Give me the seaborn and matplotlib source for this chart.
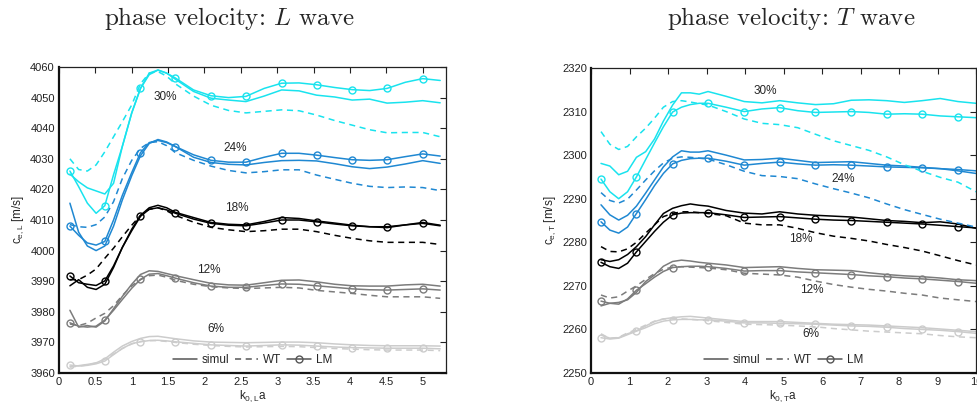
import matplotlib
matplotlib.use('Agg')
import matplotlib.pyplot as plt
from matplotlib.lines import Line2D
import seaborn as sns

sns.set_theme(style='white')
plt.rcParams['font.family'] = ['Liberation Sans', 'DejaVu Sans']
plt.rcParams['mathtext.fontset'] = 'custom'
plt.rcParams['mathtext.rm'] = 'Liberation Sans'
plt.rcParams['mathtext.it'] = 'Liberation Sans'

# ---- L wave (left panel) ----
XL = [0.15, 0.27, 0.39, 0.51, 0.63, 0.75, 0.87, 1.0, 1.12, 1.24, 1.36, 1.48, 1.6, 1.85,
      2.09, 2.33, 2.57, 2.82, 3.06, 3.3, 3.54, 3.79, 4.03, 4.27, 4.51, 4.76, 5.0, 5.24]

L30_simul = [4025, 4022.5, 4020.5, 4019.5, 4018.5, 4022, 4034, 4045, 4053, 4057.5, 4059, 4058, 4056, 4052,
             4049.8, 4049.2, 4048.7, 4050.5, 4052.5, 4052.2, 4050.8, 4050.2, 4049.2, 4049.5, 4048.2, 4048.5, 4049, 4048.3]
L30_wt = [4030, 4026.5, 4026, 4028, 4032.3, 4037.2, 4042.1, 4047.6, 4054.5, 4058, 4058.5, 4057, 4054.5, 4050.5,
          4047.5, 4045.8, 4045, 4045.5, 4046, 4045.7, 4044.3, 4042.5, 4041, 4039.5, 4038.5, 4038.6, 4038.6, 4037.2]
L30_lm = [4026, 4020.9, 4015.5, 4012.2, 4014.7, 4024.8, 4034, 4045, 4053, 4058, 4059, 4058, 4056.4, 4052.5,
          4050.6, 4050, 4050.4, 4053, 4054.7, 4054.8, 4054.2, 4053.3, 4052.6, 4052.3, 4053, 4055, 4056.2, 4055.6]

L24_simul = [4015.5, 4006, 4001.5, 4000, 4001.5, 4008, 4016.5, 4024.5, 4031, 4035, 4036.3, 4035.5, 4034, 4030.5,
             4028.8, 4028.2, 4028, 4028.8, 4029.4, 4029.5, 4029.3, 4028.4, 4027.4, 4026.8, 4027.3, 4028.3, 4029.4, 4028.5]
L24_wt = [4008.5, 4007.8, 4007.6, 4008.5, 4011, 4016, 4023.5, 4029.5, 4033.4, 4035.3, 4035.6, 4034.3, 4032, 4029.5,
          4027.6, 4026.2, 4025.4, 4025.8, 4026.4, 4026.4, 4024.7, 4023.3, 4022, 4021, 4020.6, 4020.8, 4020.6, 4019.6]
L24_lm = [4008, 4005, 4002.5, 4001.8, 4003, 4010, 4018, 4025.5, 4032, 4035.3, 4036, 4035.3, 4034, 4031.3,
          4029.5, 4028.9, 4028.9, 4030.5, 4031.8, 4031.8, 4031.2, 4030.4, 4029.7, 4029.5, 4029.7, 4030.7, 4031.6, 4030.9]

L18_simul = [3988.5, 3990.5, 3988, 3987.3, 3989, 3994.5, 4001, 4007, 4011.5, 4014, 4014.8, 4014, 4012.5, 4010.8,
             4009.2, 4008.6, 4008.4, 4009.5, 4010.8, 4010.5, 4009.7, 4009, 4008.3, 4007.8, 4007.5, 4008.4, 4009.2, 4008.3]
L18_wt = [3990.5, 3990.5, 3992, 3994, 3997.5, 4000.8, 4004.5, 4008.3, 4011.5, 4013.5, 4014, 4013, 4011.5, 4009.3,
          4007.6, 4006.8, 4006.2, 4006.5, 4007, 4007, 4006.2, 4005, 4004, 4003.2, 4002.7, 4002.7, 4002.7, 4002]
L18_lm = [3991.7, 3989.5, 3989, 3988.6, 3990.1, 3995, 4001, 4006.5, 4011.2, 4013.5, 4014, 4013.3, 4012.2, 4010.3,
          4008.9, 4008.3, 4008.1, 4009, 4010, 4010, 4009.4, 4008.7, 4008.1, 4007.8, 4007.8, 4008.4, 4008.9, 4008.1]

L12_simul = [3980.5, 3975, 3975.5, 3975, 3977, 3981, 3985, 3989, 3992.2, 3993.4, 3993.2, 3992.5, 3991.8, 3990.5,
             3989.3, 3988.8, 3988.7, 3989.5, 3990.3, 3990.4, 3989.8, 3989, 3988.5, 3988.4, 3988.4, 3988.8, 3989, 3988.4]
L12_wt = [3976, 3975.5, 3976.3, 3978, 3979.5, 3982, 3985.3, 3988.5, 3990.5, 3991.8, 3992, 3991.3, 3990.3, 3989,
          3988.2, 3987.8, 3987.6, 3987.8, 3988, 3987.8, 3987, 3986.5, 3986, 3985.4, 3984.9, 3984.9, 3984.9, 3984.4]
L12_lm = [3976.4, 3975.3, 3975, 3975.3, 3977.3, 3980.5, 3984, 3987.7, 3990.6, 3992.3, 3992.5, 3991.8, 3991, 3989.5,
          3988.4, 3988, 3988, 3988.6, 3989.1, 3989, 3988.5, 3988, 3987.5, 3987.2, 3987.1, 3987.3, 3987.5, 3987.1]

L6_simul = [3962, 3962.4, 3962.8, 3963.3, 3964.6, 3966.8, 3968.8, 3970.3, 3971.3, 3971.9, 3972, 3971.6, 3971.2, 3970.5,
            3970.1, 3970, 3969.9, 3970, 3970.1, 3970.1, 3969.9, 3969.5, 3969.2, 3969, 3968.9, 3968.9, 3968.9, 3968.8]
L6_wt = [3962, 3962.2, 3962.6, 3963.3, 3964.5, 3966.2, 3968, 3969.5, 3970.3, 3970.6, 3970.6, 3970.3, 3970, 3969.4,
         3969, 3968.7, 3968.5, 3968.6, 3968.7, 3968.6, 3968.3, 3968, 3967.8, 3967.6, 3967.5, 3967.5, 3967.5, 3967.3]
L6_lm = [3962.6, 3962.3, 3962.5, 3963, 3963.9, 3966, 3968, 3969.6, 3970.2, 3970.6, 3970.7, 3970.5, 3970.2, 3969.7,
         3969.2, 3969, 3968.8, 3969, 3969.2, 3969.1, 3968.8, 3968.5, 3968.3, 3968.2, 3968.1, 3968.1, 3968.1, 3967.9]

# ---- T wave (right panel) ----
XT = [0.26, 0.49, 0.72, 0.95, 1.18, 1.42, 1.65, 1.88, 2.12, 2.35, 2.58, 2.81, 3.04, 3.51,
      3.98, 4.44, 4.9, 5.37, 5.83, 6.3, 6.76, 7.22, 7.68, 8.14, 8.6, 9.07, 9.53, 10.0]

T30_simul = [2298.1, 2297.5, 2295.5, 2296.3, 2299.5, 2300.8, 2303.7, 2307.8, 2311.5, 2314.3, 2314.3, 2314, 2314.6, 2313.5,
             2312.3, 2312, 2312.5, 2312, 2311.6, 2311.8, 2312.6, 2312.7, 2312.5, 2312.1, 2312.5, 2313, 2312.3, 2311.9]
T30_wt = [2305.4, 2302.5, 2301.3, 2302, 2304.2, 2306.2, 2308.5, 2311, 2312.3, 2312.5, 2312.2, 2311.8, 2311.5, 2310,
          2308.3, 2307.3, 2307, 2306.3, 2304.8, 2303.3, 2302.2, 2301.1, 2299.6, 2297.8, 2296.3, 2294.9, 2293.8, 2291.6]
T30_lm = [2294.5, 2291.6, 2290, 2291.6, 2295, 2299, 2302.8, 2306.5, 2309.9, 2311, 2311.6, 2311.9, 2311.9, 2311,
          2310, 2310.6, 2310.9, 2310.2, 2309.8, 2309.9, 2310, 2309.8, 2309.4, 2309.5, 2309.4, 2309, 2308.8, 2308.6]

T24_simul = [2288.6, 2286.3, 2285.1, 2286.2, 2288.3, 2291.3, 2294.3, 2297.3, 2299.6, 2301, 2300.7, 2300.7, 2301, 2300,
             2298.9, 2299, 2299.3, 2298.8, 2298.3, 2298.4, 2298.5, 2298.1, 2297.7, 2297.5, 2297.2, 2296.9, 2296.4, 2295.8]
T24_wt = [2291.4, 2289.6, 2289, 2289.9, 2292, 2294.3, 2296.4, 2298.2, 2299.3, 2299.6, 2299.5, 2299.3, 2299.1, 2297.8,
          2296.3, 2295.3, 2295.1, 2294.6, 2293.4, 2292.3, 2291.3, 2290.2, 2288.8, 2287.5, 2286.4, 2285.3, 2284.4, 2283.5]
T24_lm = [2284.7, 2282.8, 2282.1, 2283.5, 2286.6, 2289.8, 2293, 2295.8, 2298, 2298.8, 2299.2, 2299.3, 2299.3, 2298.6,
          2297.7, 2298.1, 2298.4, 2298, 2297.7, 2297.8, 2297.7, 2297.5, 2297.3, 2297.2, 2297.1, 2296.9, 2296.7, 2296.4]

T18_simul = [2276, 2275.6, 2276, 2277.2, 2279, 2281.3, 2284, 2286.6, 2287.8, 2288.4, 2288.8, 2288.5, 2288.3, 2287.3,
             2286.7, 2286.5, 2287, 2286.5, 2286.2, 2286, 2285.8, 2285.4, 2285, 2284.8, 2284.5, 2284.7, 2284.2, 2283.2]
T18_wt = [2279, 2277.9, 2277.8, 2278.5, 2280, 2282.1, 2284, 2285.9, 2286.6, 2287, 2287, 2286.8, 2286.6, 2286.1,
          2284.4, 2284, 2284, 2283.2, 2282.2, 2281.4, 2280.9, 2280.3, 2279.5, 2278.8, 2278, 2276.9, 2275.8, 2274.8]
T18_lm = [2275.4, 2274.4, 2274, 2275.2, 2277.8, 2280.2, 2282.5, 2284.6, 2286.3, 2286.7, 2286.8, 2286.8, 2286.8, 2286.3,
          2285.7, 2285.8, 2285.9, 2285.6, 2285.3, 2285.1, 2285, 2284.8, 2284.6, 2284.4, 2284.2, 2283.9, 2283.6, 2283.3]

T12_simul = [2265.4, 2266, 2266.2, 2266.8, 2268.5, 2271, 2272.5, 2274.5, 2275.6, 2275.9, 2275.7, 2275.4, 2275.2, 2274.8,
             2274.2, 2274.3, 2274.4, 2274, 2273.7, 2273.6, 2273.5, 2273, 2272.6, 2272.3, 2272.1, 2271.8, 2271.4, 2271.2]
T12_wt = [2267.9, 2267.2, 2267.5, 2268.8, 2270, 2271.5, 2272.8, 2273.8, 2274.3, 2274.4, 2274.3, 2274.2, 2274.1, 2273.7,
          2272.9, 2272.7, 2272.5, 2272, 2271.1, 2270.3, 2269.7, 2269.2, 2268.8, 2268.3, 2267.9, 2267.2, 2266.8, 2266.4]
T12_lm = [2266.5, 2266, 2265.8, 2267, 2269, 2270.5, 2272, 2273.3, 2274.2, 2274.4, 2274.5, 2274.5, 2274.4, 2274,
          2273.4, 2273.5, 2273.5, 2273.2, 2273, 2272.8, 2272.6, 2272.3, 2272.1, 2271.8, 2271.6, 2271.3, 2271, 2270.6]

T6_simul = [2258.7, 2258, 2258.1, 2259, 2259.7, 2260.8, 2261.8, 2262.4, 2262.7, 2262.9, 2263, 2262.8, 2262.6, 2262.2,
            2261.8, 2261.8, 2261.8, 2261.6, 2261.4, 2261.2, 2261.1, 2261, 2260.8, 2260.6, 2260.4, 2260.1, 2259.8, 2259.5]
T6_wt = [2259, 2257.9, 2258.2, 2259.2, 2260, 2261, 2261.9, 2262.4, 2262.5, 2262.4, 2262.3, 2262.2, 2262, 2261.6,
         2261.2, 2261.1, 2261, 2260.8, 2260.6, 2260.2, 2259.9, 2259.6, 2259.4, 2259.2, 2259, 2258.6, 2258.3, 2258.1]
T6_lm = [2258.1, 2257.8, 2258, 2258.8, 2259.6, 2260.4, 2261.3, 2261.9, 2262.2, 2262.3, 2262.3, 2262.2, 2262.2, 2261.9,
         2261.5, 2261.5, 2261.4, 2261.3, 2261.2, 2261, 2260.8, 2260.7, 2260.5, 2260.2, 2260, 2259.8, 2259.5, 2259.1]

# marker positions on the LM curves (indices into XL / XT)
LM_MARKS = [0, 4, 8, 12, 14, 16, 18, 20, 22, 24, 26]

colors = {'6%': '#cccccc', '12%': '#7c7c7c', '18%': '#000000', '24%': '#1f88d2', '30%': '#19e3ee'}

left_sets = [('6%', L6_simul, L6_wt, L6_lm), ('12%', L12_simul, L12_wt, L12_lm),
             ('18%', L18_simul, L18_wt, L18_lm), ('24%', L24_simul, L24_wt, L24_lm),
             ('30%', L30_simul, L30_wt, L30_lm)]
right_sets = [('6%', T6_simul, T6_wt, T6_lm), ('12%', T12_simul, T12_wt, T12_lm),
              ('18%', T18_simul, T18_wt, T18_lm), ('24%', T24_simul, T24_wt, T24_lm),
              ('30%', T30_simul, T30_wt, T30_lm)]

# percent labels (x, y)
left_labels = {'30%': (1.46, 4050.3), '24%': (2.42, 4033.4), '18%': (2.45, 4013.8),
               '12%': (2.06, 3993.7), '6%': (2.16, 3974.4)}
right_labels = {'30%': (4.52, 2314.7), '24%': (6.55, 2294.5), '18%': (5.45, 2280.7),
                '12%': (5.73, 2269.0), '6%': (5.7, 2259.0)}


def draw_panel(ax, x, sets):
    for name, simul, wt, lm in sets:
        c = colors[name]
        sns.lineplot(x=x, y=simul, ax=ax, color=c, lw=1.1, estimator=None)
        sns.lineplot(x=x, y=wt, ax=ax, color=c, lw=1.1, linestyle=(0, (4, 3)), estimator=None)
        sns.lineplot(x=x, y=lm, ax=ax, color=c, lw=1.1, estimator=None, marker='o',
                     markevery=LM_MARKS, markersize=5, markerfacecolor='none',
                     markeredgecolor=c, markeredgewidth=1.0)


fig = plt.figure(figsize=(9.77, 4.08), dpi=100)
axL = fig.add_axes([59 / 977, 35 / 408, 387 / 977, 306 / 408])
axT = fig.add_axes([591 / 977, 35 / 408, 385 / 977, 305 / 408])

draw_panel(axL, XL, left_sets)
draw_panel(axT, XT, right_sets)

for name, (px, py) in left_labels.items():
    axL.text(px, py, name, ha='center', va='center', fontsize=8.5)
for name, (px, py) in right_labels.items():
    axT.text(px, py, name, ha='center', va='center', fontsize=8.5)

axL.set_xlim(0, 5.32)
axL.set_ylim(3960, 4060)
axL.set_xticks([0, 0.5, 1, 1.5, 2, 2.5, 3, 3.5, 4, 4.5, 5])
axL.set_xticklabels(['0', '0.5', '1', '1.5', '2', '2.5', '3', '3.5', '4', '4.5', '5'])
axL.set_yticks(range(3960, 4061, 10))
axL.set_xlabel(r'k$_{0,L}$a', fontsize=8.5, labelpad=1)
axL.set_ylabel(r'c$_{e,L}$ [m/s]', fontsize=8.5, labelpad=3)

axT.set_xlim(0, 10)
axT.set_ylim(2250, 2320)
axT.set_xticks(range(0, 11))
axT.set_yticks(range(2250, 2321, 10))
axT.set_xlabel(r'k$_{0,T}$a', fontsize=8.5, labelpad=1)
axT.set_ylabel(r'c$_{e,T}$ [m/s]', fontsize=8.5, labelpad=3)

for ax in (axL, axT):
    ax.tick_params(direction='in', top=True, right=True, length=4, width=0.8,
                   labelsize=8, pad=3, colors='#222222')
    for side in ['top', 'right']:
        ax.spines[side].set_linewidth(0.9)
        ax.spines[side].set_color('#222222')
    for side in ['left', 'bottom']:
        ax.spines[side].set_linewidth(1.6)
        ax.spines[side].set_color('#111111')
    handles = [Line2D([], [], color='#555555', lw=1.1),
               Line2D([], [], color='#555555', lw=1.1, linestyle=(0, (4, 3))),
               Line2D([], [], color='#555555', lw=1.1, marker='o', markersize=5,
                      markerfacecolor='none')]
    ax.legend(handles, ['simul', 'WT', 'LM'], ncol=3, frameon=False, loc='lower center',
              fontsize=8.5, handlelength=2.0, handletextpad=0.4, columnspacing=0.5,
              borderaxespad=0.2)

# titles in Computer Modern (cmr10 ships with matplotlib)
fig.text(229 / 977, 1 - 19 / 408, 'phase velocity: $L$ wave', family='cmr10',
         ha='center', va='center', fontsize=18, math_fontfamily='cm')
fig.text(791 / 977, 1 - 19 / 408, 'phase velocity: $T$ wave', family='cmr10',
         ha='center', va='center', fontsize=18, math_fontfamily='cm')

fig.savefig('out.png', dpi=100)
